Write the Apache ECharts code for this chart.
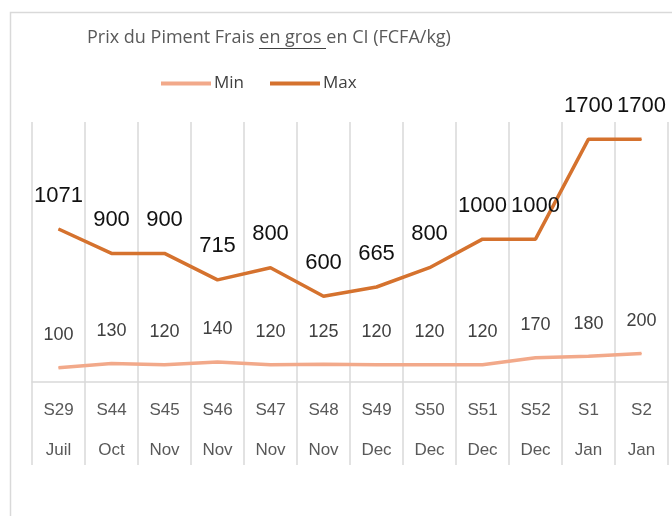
<!DOCTYPE html>
<html>
<head>
<meta charset="utf-8">
<script src="https://cdn.jsdelivr.net/npm/echarts@6/dist/echarts.min.js"></script>
<style>
  html, body { margin: 0; padding: 0; background: #fff; }
  #chart { width: 672px; height: 516px; }
</style>
</head>
<body>
<div id="chart"></div>
<script>
// semaines + mois (deux niveaux de catégories)
var weeks = ['S29', 'S44', 'S45', 'S46', 'S47', 'S48', 'S49', 'S50', 'S51', 'S52', 'S1', 'S2'];
var months = ['Juil', 'Oct', 'Nov', 'Nov', 'Nov', 'Nov', 'Dec', 'Dec', 'Dec', 'Dec', 'Jan', 'Jan'];
// prix FCFA/kg
var minPrix = [100, 130, 120, 140, 120, 125, 120, 120, 120, 170, 180, 200];
var maxPrix = [1071, 900, 900, 715, 800, 600, 665, 800, 1000, 1000, 1700, 1700];

var categories = weeks.map(function (w, i) { return w + '\n' + months[i]; });

// petit trait pour souligner "en gros "
var ul = document.createElement('canvas');
ul.width = 4; ul.height = 23;
var ctx = ul.getContext('2d');
ctx.fillStyle = '#404040';
ctx.fillRect(0, 22, 4, 1);

var myChart = echarts.init(document.getElementById('chart'));
var fontFam = '"Liberation Sans", Arial, sans-serif';
var fontOS = '"Open Sans", "Liberation Sans", sans-serif';

var option = {
  backgroundColor: '#fff',
  textStyle: { fontFamily: fontFam },
  graphic: [{
    type: 'rect',
    left: 8, top: 10,
    shape: { width: 700, height: 560 },
    style: { fill: 'none', stroke: '#d9d9d9', lineWidth: 1.5 },
    silent: true
  }],
  title: {
    left: 82, top: 21,
    text: 'Prix du Piment Frais {u|en gros }en CI (FCFA/kg)',
    textStyle: {
      fontSize: 18, fontWeight: 'normal', color: '#595959', fontFamily: fontOS,
      rich: {
        u: {
          fontSize: 18, color: '#595959', fontFamily: fontOS,
          backgroundColor: { image: ul }, height: 23
        }
      }
    }
  },
  legend: {
    top: 70, left: 156,
    itemWidth: 50, itemHeight: 4, itemGap: 26,
    icon: 'rect',
    textStyle: { fontSize: 17, color: '#404040', fontFamily: fontOS, padding: [0, 0, 0, -2] },
    data: ['Min', 'Max']
  },
  grid: { left: 32, right: 4, top: 122, bottom: 134, containLabel: false },
  xAxis: {
    type: 'category',
    data: categories,
    boundaryGap: true,
    axisLine: { lineStyle: { color: '#d9d9d9', width: 1.5 } },
    axisTick: { show: true, interval: 0, length: 83, lineStyle: { color: '#d9d9d9', width: 1.5 } },
    splitLine: { show: true, interval: 0, lineStyle: { color: '#d9d9d9', width: 1.5 } },
    axisLabel: {
      interval: 0, margin: 8, fontSize: 17, lineHeight: 40, color: '#595959', fontFamily: fontFam
    }
  },
  yAxis: {
    type: 'value', min: 0, max: 1820, show: false,
    splitLine: { show: false }
  },
  series: [{
    name: 'Min',
    type: 'line',
    data: minPrix,
    symbol: 'circle',
    symbolSize: 1,
    showSymbol: true,
    lineStyle: { color: '#F2A98A', width: 3.5 },
    itemStyle: { color: '#F2A98A' },
    label: { show: true, position: 'top', distance: 23, fontSize: 18, color: '#404040', fontFamily: fontFam }
  }, {
    name: 'Max',
    type: 'line',
    data: maxPrix,
    symbol: 'circle',
    symbolSize: 1,
    showSymbol: true,
    lineStyle: { color: '#D5722E', width: 3.5 },
    itemStyle: { color: '#D5722E' },
    label: { show: true, position: 'top', distance: 22, fontSize: 22, color: '#111', fontFamily: fontFam }
  }]
};
myChart.setOption(option);
</script>
</body>
</html>
